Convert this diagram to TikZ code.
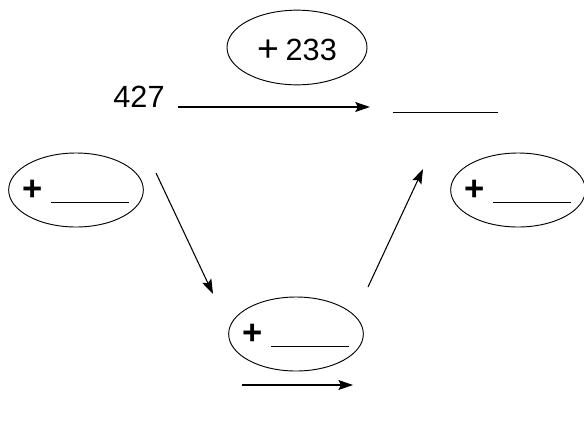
\documentclass[tikz,border=0pt]{standalone}
\usepackage{fontspec}
\setmainfont{Liberation Sans}
\usetikzlibrary{shapes.geometric,arrows.meta}

\newcommand{\bigplus}{\raisebox{-1.3pt}{\fontsize{28}{30}\selectfont +}}
\newcommand{\plusblank}{\makebox[0pt]{\raisebox{-1pt}{\fontsize{26}{30}\selectfont\bfseries +}\hspace{6pt}\rule[-3pt]{59pt}{0.7pt}}}

\begin{document}
\begin{tikzpicture}[x=0.75pt,y=0.75pt,
    font=\fontsize{23}{26}\selectfont,
    >={Stealth[length=11pt,width=7.5pt,inset=2pt]},
    enode/.style={draw,ellipse,line width=0.7pt,inner sep=0pt,minimum width=101pt,minimum height=55.5pt,text height=16pt,text depth=2.5pt},
    tnode/.style={draw,ellipse,line width=0.7pt,inner sep=0pt,minimum width=105pt,minimum height=56pt,text height=20pt,text depth=1.2pt},
    arr/.style={->,line width=0.8pt}]
    \useasboundingbox (0,0) rectangle (584,-425);

    \node[inner sep=0pt,anchor=base] (start) at (139,-107) {427};
    \node[inner sep=0pt] (answer) at (445.5,-112) {\rule{79pt}{0.7pt}};
    \node[tnode] (add) at (297,-47.5) {\makebox[0pt]{\bigplus\hspace{5pt}233}};
    \node[enode] (lft) at (76,-190) {\plusblank};
    \node[enode] (rgt) at (518,-190) {\plusblank};
    \node[enode] (mid) at (296,-334) {\plusblank};

    \coordinate (a1) at (156,-173);
    \coordinate (a2) at (213,-294);
    \coordinate (b1) at (242,-385);
    \coordinate (b2) at (353,-385);
    \coordinate (c1) at (368,-287);
    \coordinate (c2) at (423,-169);

    \draw[arr,shorten <=10pt,shorten >=17pt] (start.base east) -- (start.base east -| answer.west);
    \draw[arr] (a1) -- (a2);
    \draw[arr] (b1) -- (b2);
    \draw[arr] (c1) -- (c2);
\end{tikzpicture}
\end{document}
